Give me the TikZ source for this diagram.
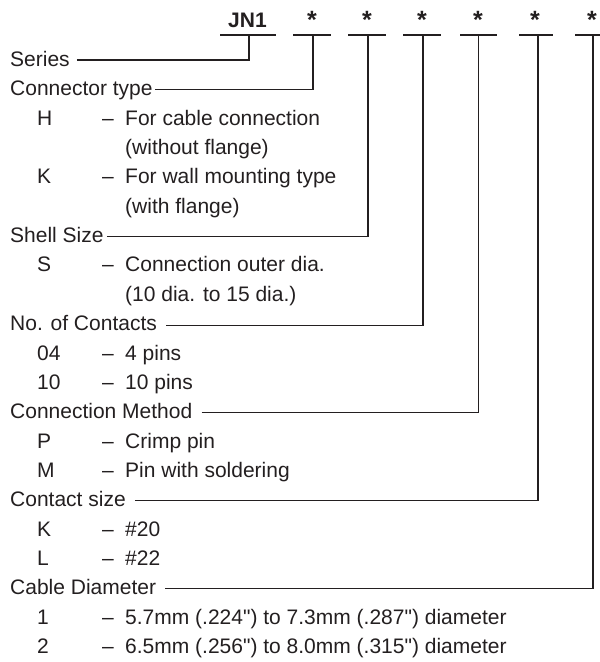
\documentclass[tikz,border=0pt]{standalone}
\usepackage{fontspec}
\setmainfont{Liberation Sans}
\definecolor{ink}{HTML}{231F20}
\tikzset{
  txt/.style={anchor=base west, inner sep=0pt, text=ink, font=\fontsize{21}{25}\selectfont},
  hdr/.style={anchor=base, inner sep=0pt, text=ink, font=\fontsize{21}{25}\selectfont\bfseries},
  uline/.style={draw=ink, line width=2.4pt},
  leader/.style={draw=ink, line width=1.1pt},
}
\newcommand\qq{\textquotedbl}
\begin{document}
\begin{tikzpicture}[x=1pt,y=-1pt]
\useasboundingbox (0,0) rectangle (600,662);
% header
\node[hdr] (jn) at (247.5,27) {JN1};
\node[hdr] (s1) at (312,28) {\fontsize{25}{25}\selectfont *};
\node[hdr] (s2) at (367,28) {\fontsize{25}{25}\selectfont *};
\node[hdr] (s3) at (422,28) {\fontsize{25}{25}\selectfont *};
\node[hdr] (s4) at (478,28) {\fontsize{25}{25}\selectfont *};
\node[hdr] (s5) at (535,28) {\fontsize{25}{25}\selectfont *};
\node[hdr] (s6) at (592,28) {\fontsize{25}{25}\selectfont *};
\coordinate (v0) at (249,35);
\coordinate (v1) at (313,35);
\coordinate (v2) at (368,35);
\coordinate (v3) at (423,35);
\coordinate (v4) at (478.5,35);
\coordinate (v5) at (538,35);
\coordinate (v6) at (593,35);
\draw[uline] (220,35) -- (276,35);
\draw[uline] (293,35) -- (331,35);
\draw[uline] (348,35) -- (386,35);
\draw[uline] (403,35) -- (441,35);
\draw[uline] (460,35) -- (497,35);
\draw[uline] (519,35) -- (553,35);
\draw[uline] (575,35) -- (612,35);
% headings
\node[txt] (h0) at (10,66.5) {Series};
\node[txt] (h1) at (10,95.85) {Connector type};
\node[txt] (h6) at (10,242.6) {Shell Size};
\node[txt] (h9) at (10,330.65) {No. of Contacts};
\node[txt] (h12) at (10,418.7) {Connection Method};
\node[txt] (h15) at (10,506.75) {Contact size};
\node[txt] (h18) at (10,594.8) {Cable Diameter};
% codes
\node[txt] (cH) at (37,125.2) {H};
\node[txt] (cK) at (37,183.9) {K};
\node[txt] (cS) at (37,271.95) {S};
\node[txt] (c04) at (37,360) {04};
\node[txt] (c10) at (37,389.35) {10};
\node[txt] (cP) at (37,448.05) {P};
\node[txt] (cM) at (37,477.4) {M};
\node[txt] (cK2) at (37,536.1) {K};
\node[txt] (cL) at (37,565.45) {L};
\node[txt] (c1) at (37,624.15) {1};
\node[txt] (c2) at (37,653.5) {2};
% dashes
\foreach \y/\n in {125.2/a,183.9/b,271.95/c,360/d,389.35/e,448.05/f,477.4/g,536.1/h,565.45/i,624.15/j,653.5/k}
  \node[txt] (dash\n) at (102,\y) {–};
% descriptions
\node[txt] (dH) at (125,125.2) {For cable connection};
\node[txt] (dH2) at (125,154.55) {(without flange)};
\node[txt] (dK) at (125,183.9) {For wall mounting type};
\node[txt] (dK2) at (125,213.25) {(with flange)};
\node[txt] (dS) at (125,271.95) {Connection outer dia.};
\node[txt] (dS2) at (125,301.3) {(10 dia. to 15 dia.)};
\node[txt] (d04) at (125,360) {4 pins};
\node[txt] (d10) at (125,389.35) {10 pins};
\node[txt] (dP) at (125,448.05) {Crimp pin};
\node[txt] (dM) at (125,477.4) {Pin with soldering};
\node[txt] (dK3) at (125,536.1) {\#20};
\node[txt] (dL) at (125,565.45) {\#22};
\node[txt] (d1) at (125,624.15) {5.7mm (.224\qq) to 7.3mm (.287\qq) diameter};
\node[txt] (d2) at (125,653.5) {6.5mm (.256\qq) to 8.0mm (.315\qq) diameter};
% leaders
\draw[leader] ([shift={(7,-6.5)}]h0.base east) -| (v0);
\draw[leader] ([shift={(2,-6.5)}]h1.base east) -| (v1);
\draw[leader] ([shift={(3,-6.5)}]h6.base east) -| (v2);
\draw[leader] ([shift={(9,-5)}]h9.base east) -| (v3);
\draw[leader] ([shift={(9,-6)}]h12.base east) -| (v4);
\draw[leader] ([shift={(9,-6)}]h15.base east) -| (v5);
\draw[leader] ([shift={(9,-6)}]h18.base east) -| (v6);
\end{tikzpicture}
\end{document}
